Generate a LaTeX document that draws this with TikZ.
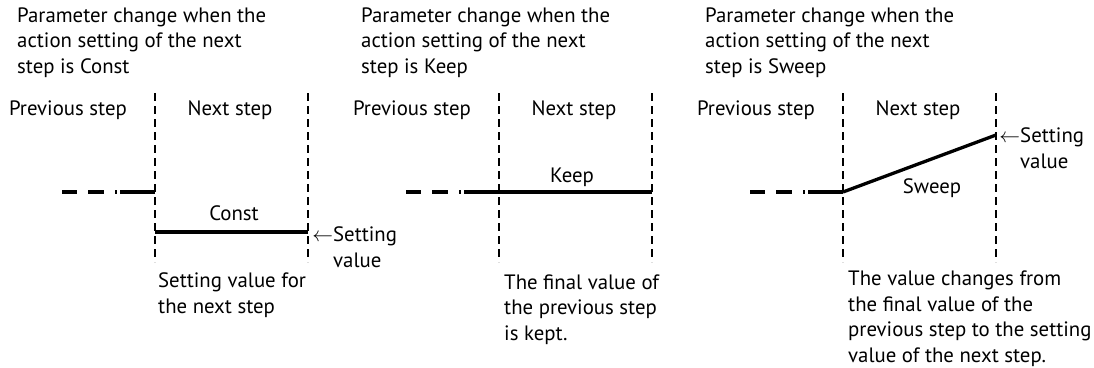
\documentclass[tikz,border=0pt]{standalone}
\usepackage{fontspec}
\setmainfont{PT Sans}
\begin{document}
\begin{tikzpicture}[x=1pt,y=-1pt,
	txt/.style={inner sep=0pt,font=\fontsize{20.8}{25.5}\selectfont},
	para/.style={txt,anchor=base west,align=left},
	vline/.style={line width=1.4pt,dash pattern=on 8pt off 5pt},
	lev/.style={line width=3.3pt},
	levdash/.style={lev,dash pattern=on 15pt off 11pt on 16pt off 11pt on 2pt off 3pt}]
	\def\ytop{93}\def\ybot{262}\def\ylev{192}
	\useasboundingbox (0,0) rectangle (1094,367);
	% the three panels share title, step labels, borders and the previous level
	% (multi-line texts are placed by the baseline of their last line)
	\foreach \n/\dx/\w in {c/0/Const, k/344/Keep, s/688/Sweep}{
		\node[para] (\n-title) at (17+\dx,73) {Parameter change when the\\action setting of the next\\step is \w};
		\node[txt,anchor=base east] (\n-prev) at (127+\dx,115) {Previous step};
		\node[txt,anchor=base] (\n-next) at (230+\dx,115) {Next step};
		\coordinate (\n-lt) at (155+\dx,\ytop); \coordinate (\n-lb) at (155+\dx,\ybot);
		\coordinate (\n-rt) at (308+\dx,\ytop); \coordinate (\n-rb) at (308+\dx,\ybot);
		\draw[vline] (\n-lt)--(\n-lb) (\n-rt)--(\n-rb);
		\coordinate (\n-s) at (62+\dx,\ylev); \coordinate (\n-m) at (120+\dx,\ylev); \coordinate (\n-a) at (155+\dx,\ylev);
		\draw[levdash] (\n-s)--(\n-m);
		\draw[lev] (\n-m)--(\n-a);
	}
	% Const
	\coordinate (c0) at (155,232); \coordinate (c1) at (308,232);
	\draw[lev] (c0)--(c1);
	\node[txt,anchor=base] (cval) at (234,220) {Const};
	\node[para] (cset) at (333,267) {\llap{$\leftarrow$}Setting\\value};
	\node[para] (cnote) at (158,313) {Setting value for\\the next step};
	% Keep
	\coordinate (k1) at (652,\ylev);
	\draw[lev] (k-a)--(k1);
	\node[txt,anchor=base] (kval) at (572,182) {Keep};
	\node[para] (knote) at (504,340) {The final value of\\the previous step\\is kept.};
	% Sweep
	\coordinate (s1) at (996,135);
	\draw[lev] (s-a)--(s1);
	\node[txt,anchor=base] (sval) at (932,193) {Sweep};
	\node[para] (sset) at (1020,168) {\llap{$\leftarrow$}Setting\\value};
	\node[para] (snote) at (848,362) {The value changes from\\the final value of the\\previous step to the setting\\value of the next step.};
\end{tikzpicture}
\end{document}
